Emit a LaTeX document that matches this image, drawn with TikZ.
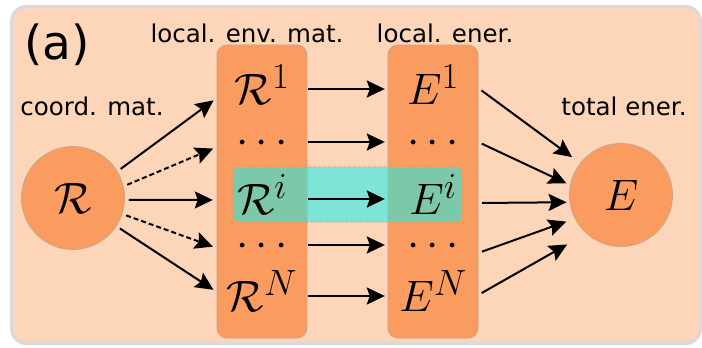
\RequirePackage{fix-cm}
\documentclass[tikz,border=0pt]{standalone}
\usepackage[no-math]{fontspec}
\setmainfont{DejaVu Sans}
\usetikzlibrary{positioning,calc,arrows.meta}
\definecolor{peachc}{HTML}{FDD5B8}
\definecolor{orangec}{HTML}{FA9B5F}
\definecolor{framec}{HTML}{DADADA}
\definecolor{edgec}{HTML}{C8A48A}
\definecolor{bandc}{HTML}{00F5F4}
\DeclareMathSizes{44}{44}{36.5}{30}

\begin{document}
\begin{tikzpicture}[x=1pt, y=-1pt,
    lbl/.style={font=\fontsize{24.5}{24.5}\selectfont},
    bigm/.style={font=\fontsize{44}{44}\selectfont},
    ball/.style={circle, fill=orangec, draw=edgec, line width=0.8pt, minimum size=103pt, inner sep=0pt, bigm},
    colbox/.style={rounded corners=10pt, fill=orangec, draw=edgec, line width=0.8pt, minimum width=90pt, minimum height=293pt},
    slot/.style={bigm, minimum width=90pt, inner sep=0pt, text height=30pt, text depth=0pt},
    arr/.style={line width=2pt, -{Stealth[length=18pt,width=17pt,inset=3pt]}},
    darr/.style={arr, dash pattern=on 5pt off 3pt}]
  \useasboundingbox (0,0) rectangle (702,348);
  \fill[white] (0,0) rectangle (702,348);
  \draw[framec, fill=peachc, line width=3pt, rounded corners=15pt] (11.5,6.5) rectangle (700.5,343.5);
  % titles
  \node[font=\fontsize{47}{47}\selectfont] (tag) at (57,45) {(a)};
  \node[lbl] (envlbl) at (247,33) {local. env. mat.};
  \node[lbl] (enerlbl) at (445,33) {local. ener.};
  \node[lbl] (coordlbl) at (92,106) {coord. mat.};
  \node[lbl] (totlbl) at (624,106) {total ener.};
  % columns and highlighted row
  \node[colbox] (lcol) at (262,191.5) {};
  \node[colbox] (rcol) at (433,191.5) {};
  \node[rounded corners=6pt, fill=bandc, fill opacity=0.5, draw=edgec, line width=0.8pt,
        dash pattern=on 3pt off 2pt, minimum width=229pt, minimum height=55pt] (band) at (347.5,194.5) {};
  \node[ball] (R) at (73,198) {$\mathcal{R}$};
  \node[ball] (E) at (621,195) {$E$};
  % rows
  \foreach \k/\y/\a/\b in {1/89/{\mathcal{R}^1}/{E^1}, 2/142/{\raisebox{4pt}{$\cdots$}}/{\raisebox{4pt}{$\cdots$}},
                           3/199/{\mathcal{R}^i}/{E^i}, 4/245/{\raisebox{4pt}{$\cdots$}}/{\raisebox{4pt}{$\cdots$}},
                           5/296/{\mathcal{R}^N}/{E^N}} {
    \node[slot] (r\k) at (262,\y) {$\a$};
    \node[slot] (e\k) at (433,\y) {$\b$};
    \draw[arr, shorten <=1pt, shorten >=3pt] (r\k) -- (e\k);
  }
  % fan out / fan in
  \foreach \k/\ang/\dy/\sty in {1/31/9/arr, 2/13/5/darr, 3/-2/1/arr, 4/-18/3/darr, 5/-33/-4/arr}
    \draw[\sty, shorten <=4pt, shorten >=4pt] (R.\ang) -- ($(r\k.west)+(0,\dy)$);
  \foreach \k/\ang/\dy/\gap in {1/142/-1/10, 2/169/0/4, 3/188/4/3, 4/207/8/9, 5/228/-1/22}
    \draw[arr, shorten <=4pt, shorten >=\gap pt] ($(e\k.east)+(0,\dy)$) -- (E.\ang);
\end{tikzpicture}
\end{document}
